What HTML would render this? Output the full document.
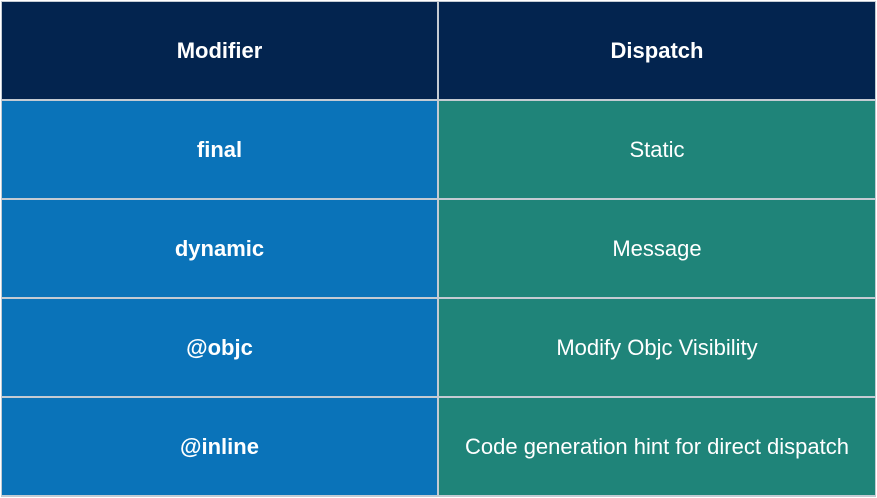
<!DOCTYPE html>
<html><head><style>
html,body{margin:0;padding:0;width:877px;height:498px;background:#fff;overflow:hidden}
.c{position:absolute;display:flex;align-items:center;justify-content:center;font-family:"Liberation Sans",sans-serif;font-size:22px;color:#fff;box-sizing:border-box}
.h{background:#03244f;font-weight:bold}
.l{background:#0a73b9;font-weight:bold}
.r{background:#1f8479}
.bg{position:absolute;left:1px;top:1px;width:875px;height:496px;background:#c4cbd3}
</style></head><body>
<div class="bg"></div>
<div class="c h" style="left:2px;top:2px;width:435px;height:97px">Modifier</div>
<div class="c h" style="left:439px;top:2px;width:436px;height:97px">Dispatch</div>
<div class="c l" style="left:2px;top:101px;width:435px;height:97px">final</div>
<div class="c r" style="left:439px;top:101px;width:436px;height:97px">Static</div>
<div class="c l" style="left:2px;top:200px;width:435px;height:97px">dynamic</div>
<div class="c r" style="left:439px;top:200px;width:436px;height:97px">Message</div>
<div class="c l" style="left:2px;top:299px;width:435px;height:97px">@objc</div>
<div class="c r" style="left:439px;top:299px;width:436px;height:97px">Modify Objc Visibility</div>
<div class="c l" style="left:2px;top:398px;width:435px;height:97px">@inline</div>
<div class="c r" style="left:439px;top:398px;width:436px;height:97px">Code generation hint for direct dispatch</div>
</body></html>
